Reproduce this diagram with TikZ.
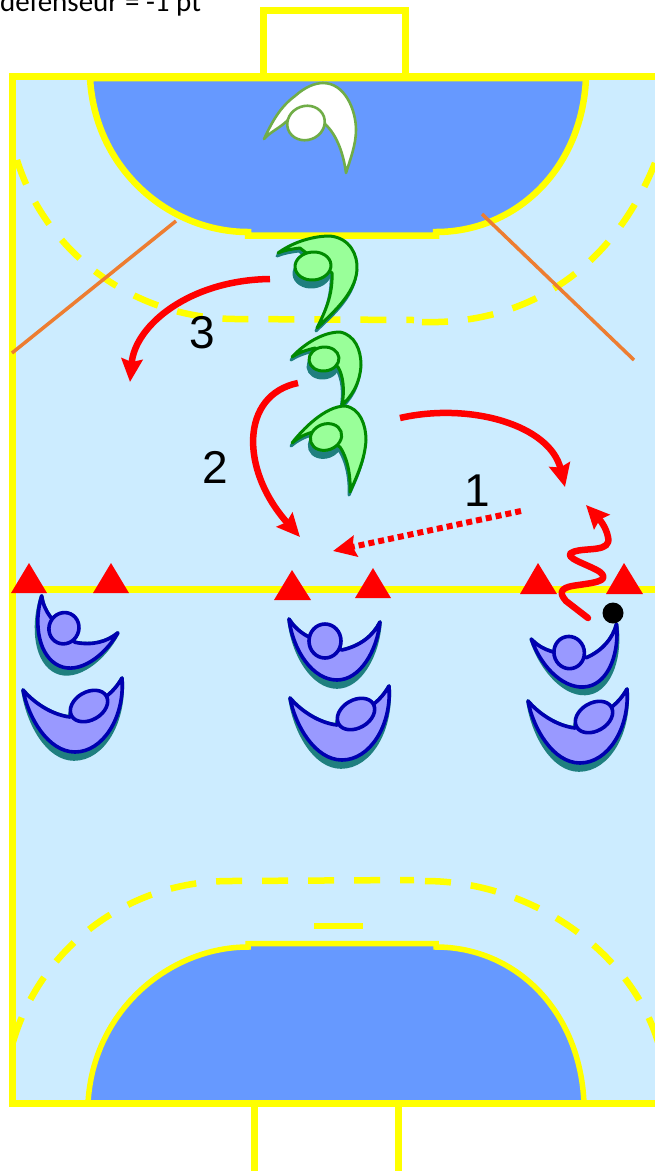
\documentclass[tikz,border=0pt]{standalone}
\usepackage{fontspec}
\setmainfont{Liberation Sans}
\newfontfamily\notefont{Carlito}
\usetikzlibrary{arrows.meta}
\definecolor{courtbg}{HTML}{CCECFF}
\definecolor{zone}{HTML}{6699FF}
\definecolor{lineY}{HTML}{FFFF00}
\definecolor{orangeL}{HTML}{ED7D31}
\definecolor{greenF}{HTML}{99FF99}
\definecolor{greenD}{HTML}{008A00}
\definecolor{keeperD}{HTML}{70AD47}
\definecolor{shadowT}{HTML}{1F7F7F}
\definecolor{blueF}{HTML}{9999FF}
\definecolor{blueD}{HTML}{0000B0}
\tikzset{
  yline/.style={draw=lineY,line width=7pt},
  zonefill/.style={fill=zone,draw=lineY,line width=6.5pt},
  dashline/.style={draw=lineY,line width=6.5pt,dash pattern=on 26pt off 20pt},
  orangeline/.style={draw=orangeL,line width=3.5pt},
  cone/.style={fill=red,draw=none},
  move/.style={draw=red,line width=6.5pt,-{Stealth[length=23pt,width=21pt,inset=3pt]}},
  num/.style={font=\fontsize{46}{46}\selectfont,inner sep=0pt,text=black},
  bluebody/.style={fill=blueF,draw=blueD,line width=3.6pt,line join=round},
  blueshadow/.style={fill=shadowT,draw=shadowT,line width=3.6pt,line join=round},
  greenbody/.style={fill=greenF,draw=greenD,line width=3pt,line join=round},
  greenshadow/.style={fill=shadowT,draw=shadowT,line width=3pt,line join=round},
  lowerplayer/.pic={
    \path[blueshadow] (-50,-22) .. controls (-45,12) and (-25,47) .. (1,47) .. controls (30,47) and (52,10) .. (49,-34)
      .. controls (45,-27) and (40,-21) .. (35,-17) -- (-3,5) .. controls (-20,3) and (-38,-8) .. cycle;
    \path[blueshadow] (15,1) circle [x radius=20,y radius=14,rotate=30];
    \path[bluebody] (-50,-22) .. controls (-38,-8) and (-20,3) .. (-3,5) -- (35,-17) .. controls (40,-21) and (45,-27) .. (49,-34)
      .. controls (52,5) and (30,40) .. (2,40) .. controls (-25,40) and (-45,5) .. cycle;
    \path[bluebody] (16,-6) circle [x radius=20,y radius=14,rotate=30];
  },
  upperplayer/.pic={
    \path[blueshadow] (-46,-2) .. controls (-42,34) and (-22,66) .. (2,66) .. controls (25,66) and (43,34) .. (45,1)
      .. controls (38,15) and (25,25) .. (7,29) -- (-28,15) .. controls (-35,11) and (-41,6) .. cycle;
    \path[blueshadow] (-11,27) circle [x radius=16,y radius=17];
    \path[bluebody] (-46,-2) .. controls (-41,6) and (-35,11) .. (-28,15) -- (7,29) .. controls (25,25) and (38,15) .. (45,1)
      .. controls (42,30) and (25,59) .. (2,59) .. controls (-22,59) and (-42,30) .. cycle;
    \path[bluebody] (-10,20) circle [x radius=16,y radius=17];
  }
}
% path of a defender's body, centre and radii of its head
\newcommand{\greenplayer}[6]{%
  \path[greenshadow,shift={(-1,3)}] #1;
  \path[greenshadow] (#2-1,#3+7) circle [x radius=#4,y radius=#5,rotate=#6];
  \path[greenbody] #1;
  \path[greenbody] (#2,#3) circle [x radius=#4,y radius=#5,rotate=#6];
}
\begin{document}
\begin{tikzpicture}[x=1pt,y=-1pt]
\useasboundingbox (0,0) rectangle (655,1171);
\clip (0,0) rectangle (655,1171);
% court
\fill[courtbg] (12,76) rectangle (655,1104);
% nine metre lines
\path[dashline] (17,160) .. controls (45,250) and (130,318) .. (235,319) -- (414,320);
\path[dashline] (422,322) .. controls (520,325) and (610,275) .. (655,163);
\path[dashline] (13,1042) .. controls (40,950) and (125,881) .. (230,881) -- (414,880);
\path[dashline] (425,881) .. controls (530,881) and (630,950) .. (658,1042);
\draw[draw=lineY,line width=6.5pt] (314,926) -- (363,926);
% goalkeeper zones
\path[zonefill] (90,78) .. controls (95,170) and (170,232) .. (248,232) -- (248,235.5) -- (436,235.5) -- (436,232) .. controls (515,232) and (582,170) .. (586,78) -- cycle;
\path[zonefill,line width=5.5pt] (88,1103) .. controls (93,1010) and (170,947) .. (248,947) -- (248,943.5) -- (436,943.5) -- (436,947) .. controls (515,947) and (580,1010) .. (584,1103) -- cycle;
% court outline
\draw[yline] (655,76.7) -- (12,76.7) -- (12,1103.5) -- (655,1103.5);
\draw[yline] (263.3,76) -- (263.3,10.7) -- (405,10.7) -- (405,76);
\draw[yline] (254,1104) -- (254,1175) -- (398,1175) -- (398,1104);
\draw[yline] (12,589.3) -- (655,589.3);
% free-throw lines
\draw[orangeline] (176,221) -- (12,353);
\draw[orangeline] (482,214) -- (634,360);
% cones
\fill[cone] (11,593) -- (29,563) -- (47,593) -- cycle;
\fill[cone] (93,593) -- (111,563) -- (129,593) -- cycle;
\fill[cone] (274,600) -- (292,570) -- (311,600) -- cycle;
\fill[cone] (355,598) -- (373,568) -- (391,598) -- cycle;
\fill[cone] (520,594) -- (538,563) -- (557,594) -- cycle;
\fill[cone] (606,594) -- (624,563) -- (643,594) -- cycle;
% keeper
\path[fill=white,draw=keeperD,line width=2.6pt,line join=round] (264,139) .. controls (272,122) and (280,107) .. (295,96) .. controls (305,87) and (315,83) .. (323,83)
  .. controls (345,83) and (356,110) .. (356,130) .. controls (356,145) and (350,160) .. (346,173)
  .. controls (343,150) and (335,133) .. (325,124) -- (288,120) .. controls (280,128) and (270,132) .. cycle;
\path[fill=white,draw=keeperD,line width=2.6pt] (306,123) circle [x radius=19,y radius=17,rotate=20];
% defenders
\greenplayer{(278,253) .. controls (290,244) and (310,236) .. (330,236) .. controls (350,238) and (358,255) .. (357,270)
  .. controls (355,295) and (330,315) .. (317,328) .. controls (325,312) and (333,295) .. (332,273) -- (300,248) .. controls (292,249) and (285,250) .. cycle}{313}{266}{18}{14}{5}
\greenplayer{(292,357) .. controls (303,345) and (322,332) .. (340,332) .. controls (355,335) and (361,350) .. (361,365)
  .. controls (360,385) and (350,398) .. (342,405) .. controls (345,390) and (343,375) .. (338,367) -- (315,348) .. controls (306,350) and (298,353) .. cycle}{324}{359}{15}{12}{5}
\greenplayer{(292,443) .. controls (302,430) and (325,406) .. (345,406) .. controls (360,408) and (366,425) .. (366,440)
  .. controls (365,460) and (356,478) .. (350,492) .. controls (351,475) and (347,457) .. (340,447) -- (313,432) .. controls (305,434) and (298,438) .. cycle}{326}{437}{16}{13}{20}
% attackers
\pic at (80,615) [rotate=-24,scale=.93] {upperplayer};
\pic at (73,712) {lowerplayer};
\pic at (335,621) {upperplayer};
\pic at (340,720) {lowerplayer};
\pic at (574.5,632) [rotate=12,scale=.95] {upperplayer};
\pic at (578,723) {lowerplayer};
% ball
\node[circle,fill=black,minimum size=21pt,inner sep=0pt] (ball) at (613,613) {};
% arrows
\coordinate (a3s) at (270,279); \coordinate (a3e) at (130,382);
\coordinate (a2s) at (298,383); \coordinate (a2e) at (300,537);
\coordinate (a1s) at (521,511); \coordinate (a1e) at (333,551);
\coordinate (a4s) at (400,418); \coordinate (a4e) at (565,487);
\coordinate (z0) at (588,618); \coordinate (ze) at (586,505);
\draw[move] (a3s) .. controls (190,280) and (135,325) .. (a3e);
\draw[move] (a2s) .. controls (240,395) and (240,470) .. (a2e);
\draw[move] (a4s) .. controls (470,402) and (550,425) .. (a4e);
\draw[draw=red,line width=6pt,dash pattern=on 6pt off 4pt,-{Stealth[length=23pt,width=21pt,inset=3pt]}] (a1s) -- (a1e);
\draw[move,line join=round,line cap=round] (z0) -- (566,601) .. controls (558,592) and (562,588) .. (572,586)
  .. controls (590,583) and (612,582) .. (600,572) .. controls (590,565) and (560,557) .. (573,552)
  .. controls (585,547) and (612,553) .. (608,537) .. controls (606,527) and (600,520) .. (ze);
% labels
\node[num] (n3) at (202,333) {3};
\node[num] (n2) at (215,467) {2};
\node[num] (n1) at (477,491) {1};
\node[anchor=base west,inner sep=0pt,font=\notefont\fontsize{29}{30}\selectfont] (title) at (0,11.5) {défenseur = -1 pt};
\end{tikzpicture}
\end{document}
